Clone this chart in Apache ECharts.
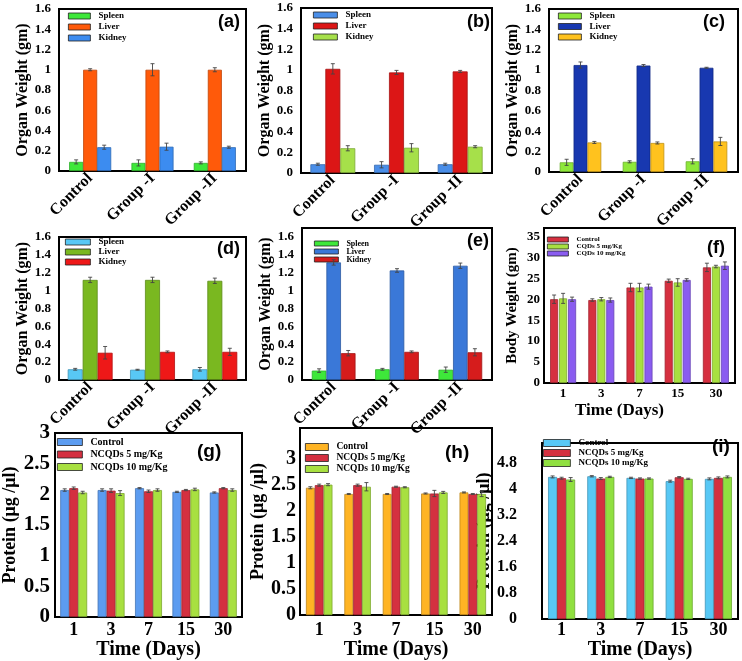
<!DOCTYPE html>
<html><head><meta charset="utf-8">
<script src="https://cdn.jsdelivr.net/npm/echarts@6/dist/echarts.min.js"></script>
<style>html,body{margin:0;padding:0;background:#fff}#c{width:742px;height:661px}</style>
</head><body><div id="c"></div>
<script>
// ---------- categories & names ----------
const organCats = ['Control', 'Group -I', 'Group -II'];
const dayCats = ['1', '3', '7', '15', '30'];
const organNames = ['Spleen', 'Liver', 'Kidney'];
const bodyNames = ['Control', 'CQDs 5 mg/Kg', 'CQDs 10 mg/Kg'];
const proteinNames = ['Control', 'NCQDs 5 mg/Kg', 'NCQDs 10 mg/Kg'];

// ---------- tick labels ----------
const organTicks = [0, 0.2, 0.4, 0.6, 0.8, 1, 1.2, 1.4, 1.6];
const bodyTicks = [0, 5, 10, 15, 20, 25, 30, 35];
const gTicks = [0, 0.5, 1, 1.5, 2, 2.5, 3];
const hTicks = [0, 0.5, 1, 1.5, 2, 2.5, 3];
const iTicks = [0, 0.8, 1.6, 2.4, 3.2, 4, 4.8];

// ---------- values (a) ----------
const aSpleen = [0.09, 0.08, 0.08];   const aSpleenErr = [0.02, 0.03, 0.01];
const aLiver = [1.0, 1.0, 1.0];       const aLiverErr = [0.01, 0.06, 0.02];
const aKidney = [0.235, 0.24, 0.235]; const aKidneyErr = [0.02, 0.035, 0.01];
// (b)
const bSpleen = [0.085, 0.08, 0.085]; const bSpleenErr = [0.01, 0.03, 0.01];
const bLiver = [1.01, 0.975, 0.985];  const bLiverErr = [0.05, 0.02, 0.01];
const bKidney = [0.24, 0.245, 0.255]; const bKidneyErr = [0.025, 0.04, 0.01];
// (c)
const cSpleen = [0.095, 0.1, 0.105];  const cSpleenErr = [0.03, 0.01, 0.025];
const cLiver = [1.05, 1.045, 1.023];  const cLiverErr = [0.03, 0.01, 0.005];
const cKidney = [0.29, 0.285, 0.3];   const cKidneyErr = [0.01, 0.01, 0.04];
// (d)
const dSpleen = [0.12, 0.115, 0.12];  const dSpleenErr = [0.01, 0.005, 0.02];
const dLiver = [1.12, 1.12, 1.11];    const dLiverErr = [0.03, 0.03, 0.03];
const dKidney = [0.305, 0.315, 0.315];const dKidneyErr = [0.07, 0.01, 0.04];
// (e)
const eSpleen = [0.105, 0.12, 0.115]; const eSpleenErr = [0.02, 0.01, 0.03];
const eLiver = [1.315, 1.225, 1.278]; const eLiverErr = [0.03, 0.02, 0.03];
const eKidney = [0.30, 0.315, 0.31];  const eKidneyErr = [0.03, 0.01, 0.04];
// (f) body weight
const fControl = [20.0, 19.8, 22.8, 24.4, 27.6]; const fControlErr = [1.0, 0.3, 1.0, 0.4, 1.0];
const fCqd5 = [20.2, 20.0, 22.8, 24.0, 27.8];    const fCqd5Err = [1.2, 0.4, 1.0, 0.9, 0.3];
const fCqd10 = [20.0, 19.8, 23.0, 24.6, 28.0];   const fCqd10Err = [0.5, 0.5, 0.6, 0.3, 0.9];
// (g) protein
const gControl = [2.07, 2.07, 2.10, 2.04, 2.03]; const gControlErr = [0.02, 0.02, 0.01, 0.01, 0.01];
const gNcqd5 = [2.10, 2.06, 2.05, 2.07, 2.10];   const gNcqd5Err = [0.02, 0.03, 0.02, 0.01, 0.01];
const gNcqd10 = [2.03, 2.02, 2.07, 2.08, 2.07];  const gNcqd10Err = [0.02, 0.04, 0.02, 0.02, 0.02];
// (h)
const hControl = [2.45, 2.33, 2.33, 2.34, 2.36]; const hControlErr = [0.02, 0.01, 0.01, 0.01, 0.01];
const hNcqd5 = [2.50, 2.50, 2.47, 2.34, 2.33];   const hNcqd5Err = [0.02, 0.02, 0.01, 0.06, 0.01];
const hNcqd10 = [2.51, 2.47, 2.46, 2.36, 2.33];  const hNcqd10Err = [0.02, 0.08, 0.01, 0.02, 0.05];
// (i)
const iControl = [4.36, 4.38, 4.33, 4.23, 4.30]; const iControlErr = [0.03, 0.02, 0.02, 0.03, 0.03];
const iNcqd5 = [4.32, 4.31, 4.31, 4.35, 4.33];   const iNcqd5Err = [0.03, 0.03, 0.02, 0.02, 0.03];
const iNcqd10 = [4.28, 4.36, 4.31, 4.30, 4.36];  const iNcqd10Err = [0.06, 0.02, 0.02, 0.02, 0.03];

// ---------- panel layout & styles ----------
const SERIF = '"Liberation Serif","Times New Roman",serif';
const panels = [
  { id: '(a)', grid: { left: 59, top: 9, width: 187, height: 162 }, cats: organCats, names: organNames,
    vals: [aSpleen, aLiver, aKidney], errs: [aSpleenErr, aLiverErr, aKidneyErr],
    colors: ['#3ee83a', '#ff5a0a', '#3c8cf0'], yMax: 1.6, yInt: 0.2, ticks: organTicks,
    yName: 'Organ Weight (gm)', yNameSize: 16, yNameGap: 28, yLabSize: 13, yLabMargin: 8,
    xRot: 45, xLabSize: 16, xLabMargin: 5, bw: 22.5, gap: 0,
    legend: { left: 68, top: 11, w: 22, h: 6, lh: 10, gap: 1, fs: 9 }, tag: { x: 218, y: 13, fs: 18 } },
  { id: '(b)', grid: { left: 301, top: 8, width: 191, height: 165 }, cats: organCats, names: organNames,
    vals: [bSpleen, bLiver, bKidney], errs: [bSpleenErr, bLiverErr, bKidneyErr],
    colors: ['#4a8ee8', '#dc1616', '#a6e04a'], yMax: 1.6, yInt: 0.2, ticks: organTicks,
    yName: 'Organ Weight (gm)', yNameSize: 16, yNameGap: 28, yLabSize: 13, yLabMargin: 8,
    xRot: 45, xLabSize: 16, xLabMargin: 5, bw: 23.5, gap: 0,
    legend: { left: 313, top: 10, w: 24, h: 6, lh: 10, gap: 1, fs: 9 }, tag: { x: 467, y: 13, fs: 18 } },
  { id: '(c)', grid: { left: 549, top: 9, width: 189, height: 163 }, cats: organCats, names: organNames,
    vals: [cSpleen, cLiver, cKidney], errs: [cSpleenErr, cLiverErr, cKidneyErr],
    colors: ['#8ee83a', '#1838b0', '#ffc21e'], yMax: 1.6, yInt: 0.2, ticks: organTicks,
    yName: 'Organ Weight (gm)', yNameSize: 16, yNameGap: 28, yLabSize: 13, yLabMargin: 8,
    xRot: 45, xLabSize: 16, xLabMargin: 5, bw: 22, gap: 0,
    legend: { left: 558, top: 11, w: 23, h: 6, lh: 10, gap: 0.5, fs: 9 }, tag: { x: 703, y: 13, fs: 18 } },
  { id: '(d)', grid: { left: 59, top: 237, width: 187, height: 143 }, cats: organCats, names: organNames,
    vals: [dSpleen, dLiver, dKidney], errs: [dSpleenErr, dLiverErr, dKidneyErr],
    colors: ['#58c8f5', '#7ab820', '#ee1818'], yMax: 1.6, yInt: 0.2, ticks: organTicks,
    yName: 'Organ Weight (gm)', yNameSize: 16, yNameGap: 28, yLabSize: 13, yLabMargin: 8,
    xRot: 45, xLabSize: 16, xLabMargin: 5, bw: 24, gap: 0,
    legend: { left: 65, top: 237, w: 25, h: 6, lh: 10, gap: 0, fs: 9 }, tag: { x: 217, y: 240, fs: 18 } },
  { id: '(e)', grid: { left: 302, top: 228, width: 190, height: 152 }, cats: organCats, names: organNames,
    vals: [eSpleen, eLiver, eKidney], errs: [eSpleenErr, eLiverErr, eKidneyErr],
    colors: ['#3ee83a', '#3a78d8', '#d61c1c'], yMax: 1.7, yInt: 0.2, ticks: organTicks,
    yName: 'Organ Weight (gm)', yNameSize: 16, yNameGap: 28, yLabSize: 13, yLabMargin: 8,
    xRot: 45, xLabSize: 16, xLabMargin: 5, bw: 23, gap: 0,
    legend: { left: 314, top: 239.5, w: 24, h: 5, lh: 7, gap: 0, fs: 8 }, tag: { x: 467, y: 232, fs: 18 } },
  { id: '(f)', grid: { left: 544, top: 228, width: 191, height: 155 }, cats: dayCats, names: bodyNames,
    vals: [fControl, fCqd5, fCqd10], errs: [fControlErr, fCqd5Err, fCqd10Err],
    colors: ['#d63040', '#a8e040', '#8a5cf0'], yMax: 37, yInt: 5, ticks: bodyTicks,
    yName: 'Body Weight (gm)', yNameSize: 15, yNameGap: 24, yLabSize: 13, yLabMargin: 4,
    xRot: 0, xLabSize: 13, xLabMargin: 4, bw: 21, gap: 12,
    xName: 'Time (Days)', xNameSize: 17, xNameGap: 19, xNameShift: 40,
    legend: { left: 547, top: 236, w: 21, h: 5, lh: 6, gap: 0, fs: 7 }, tag: { x: 707, y: 239, fs: 18 } },
  { id: '(g)', grid: { left: 54, top: 433, width: 188, height: 184 }, cats: dayCats, names: proteinNames,
    vals: [gControl, gNcqd5, gNcqd10], errs: [gControlErr, gNcqd5Err, gNcqd10Err],
    colors: ['#5c9cf0', '#d43040', '#a8e040'], yMax: 3, yInt: 0.5, ticks: gTicks,
    yName: 'Protein (μg /μl)', yNameSize: 18, yNameGap: 36, yLabSize: 21, yLabMargin: 5,
    xRot: 0, xLabSize: 18, xLabMargin: 4, bw: 24, gap: 0,
    xName: 'Time (Days)', xNameSize: 20, xNameGap: 18, xNameShift: 0,
    legend: { left: 57, top: 436, w: 25, h: 7, lh: 12, gap: 0.5, fs: 10 }, tag: { x: 197, y: 442, fs: 19 } },
  { id: '(h)', grid: { left: 300, top: 428, width: 192, height: 192 }, cats: dayCats, names: proteinNames,
    vals: [hControl, hNcqd5, hNcqd10], errs: [hControlErr, hNcqd5Err, hNcqd10Err],
    colors: ['#ffb424', '#d43040', '#a8e040'], yMax: 3.6, yInt: 0.5, ticks: hTicks,
    yName: 'Protein (μg /μl)', yNameSize: 18, yNameGap: 28, yLabSize: 20, yLabMargin: 4,
    xRot: 0, xLabSize: 18, xLabMargin: 6, bw: 23, gap: 0,
    xName: 'Time (Days)', xNameSize: 20, xNameGap: 17, xNameShift: 0,
    legend: { left: 305, top: 441.5, w: 23, h: 7, lh: 11, gap: 0, fs: 9.5 }, tag: { x: 445, y: 443, fs: 19 } },
  { id: '(i)', grid: { left: 542, top: 443, width: 196, height: 177 }, cats: dayCats, names: proteinNames,
    vals: [iControl, iNcqd5, iNcqd10], errs: [iControlErr, iNcqd5Err, iNcqd10Err],
    colors: ['#58c8f5', '#d43040', '#90e040'], yMax: 5.4, yInt: 0.8, ticks: iTicks,
    yName: 'Protein (μg /μl)', yNameSize: 18, yNameGap: 40, yLabSize: 16, yLabMargin: 25,
    xRot: 0, xLabSize: 18, xLabMargin: 2, bw: 23, gap: 0,
    xName: 'Time (Days)', xNameSize: 20, xNameGap: 15, xNameShift: 0,
    legend: { left: 543, top: 438, w: 27, h: 7, lh: 10, gap: 0, fs: 9 }, tag: { x: 712, y: 437, fs: 19 } }
];

function darken(hex, f) {
  const n = parseInt(hex.slice(1), 16);
  const r = Math.round(((n >> 16) & 255) * f), g = Math.round(((n >> 8) & 255) * f), b = Math.round((n & 255) * f);
  return 'rgb(' + r + ',' + g + ',' + b + ')';
}

const grids = [], xAxes = [], yAxes = [], series = [], legends = [], titles = [];
panels.forEach((p, pi) => {
  grids.push(Object.assign({ show: true, borderColor: '#000', borderWidth: 2, backgroundColor: 'transparent' }, p.grid));
  xAxes.push({
    type: 'category', gridIndex: pi, data: p.cats,
    axisLine: { lineStyle: { color: '#000', width: 2 } }, axisTick: { show: false },
    axisLabel: { interval: 0, rotate: p.xRot, margin: p.xLabMargin, color: '#000',
      fontFamily: SERIF, fontWeight: 'bold', fontSize: p.xLabSize },
    name: p.xName || '', nameLocation: 'middle', nameGap: p.xNameGap || 0,
    nameTextStyle: { color: '#000', fontFamily: SERIF, fontWeight: 'bold', fontSize: p.xNameSize || 12,
      padding: [0, p.xNameShift || 0, 0, 0] }
  });
  const ticks = p.ticks;
  yAxes.push({
    type: 'value', gridIndex: pi, min: 0, max: p.yMax, interval: p.yInt,
    splitLine: { show: false }, axisTick: { show: false },
    axisLine: { show: true, lineStyle: { color: '#000', width: 2 } },
    axisLabel: { margin: p.yLabMargin, color: '#000', fontFamily: SERIF, fontWeight: 'bold', fontSize: p.yLabSize,
      showMaxLabel: true,
      formatter: v => { const t = ticks.find(t => Math.abs(t - v) < 1e-6); return t === undefined ? '' : String(t); } },
    name: p.yName, nameLocation: 'middle', nameGap: p.yNameGap,
    nameTextStyle: { color: '#000', fontFamily: SERIF, fontWeight: 'bold', fontSize: p.yNameSize }
  });
  const n = p.names.length;
  const keyNames = p.names.map(nm => p.id + '|' + nm);
  p.names.forEach((nm, k) => {
    series.push({
      type: 'bar', name: keyNames[k], xAxisIndex: pi, yAxisIndex: pi, data: p.vals[k],
      barWidth: p.bw + '%', barGap: p.gap + '%', animation: false,
      itemStyle: { color: p.colors[k], borderColor: darken(p.colors[k], 0.75), borderWidth: 0.8 },
      emphasis: { disabled: true }
    });
  });
  const errData = [];
  p.vals.forEach((arr, k) => arr.forEach((v, i) => errData.push([i, v, p.errs[k][i], k])));
  series.push({
    type: 'custom', xAxisIndex: pi, yAxisIndex: pi, data: errData, animation: false, z: 5,
    encode: { x: 0, y: 1 }, silent: true,
    renderItem: (params, api) => {
      const i = api.value(0), v = api.value(1), e = api.value(2), k = api.value(3);
      const band = api.size([1, 0])[0];
      const bw = band * p.bw / 100, step = bw * (1 + p.gap / 100);
      const off = (k - (n - 1) / 2) * step;
      const t = api.coord([i, v + e]), b = api.coord([i, v - e]);
      const x = t[0] + off, cw = 2;
      const st = { stroke: '#444', lineWidth: 0.9 };
      return { type: 'group', children: [
        { type: 'line', shape: { x1: x, y1: t[1], x2: x, y2: b[1] }, style: st },
        { type: 'line', shape: { x1: x - cw, y1: t[1], x2: x + cw, y2: t[1] }, style: st },
        { type: 'line', shape: { x1: x - cw, y1: b[1], x2: x + cw, y2: b[1] }, style: st }
      ] };
    }
  });
  const L = p.legend;
  legends.push({
    data: keyNames, orient: 'vertical', left: L.left, top: L.top, padding: 0,
    itemWidth: L.w, itemHeight: L.h, itemGap: L.gap, icon: 'rect', selectedMode: false,
    itemStyle: { borderColor: '#222', borderWidth: 0.8 },
    formatter: nm => nm.split('|')[1],
    textStyle: { color: '#000', fontFamily: SERIF, fontWeight: 'bold', fontSize: L.fs, lineHeight: L.lh, padding: [0, 0, 0, 3] }
  });
  titles.push({ text: p.id, left: p.tag.x, top: p.tag.y, padding: 0,
    textStyle: { color: '#000', fontFamily: '"Liberation Sans",Arial,sans-serif', fontWeight: 'bold', fontSize: p.tag.fs } });
});

const chart = echarts.init(document.getElementById('c'), null, { renderer: 'canvas' });
chart.setOption({ animation: false, backgroundColor: '#fff', title: titles, grid: grids, xAxis: xAxes, yAxis: yAxes, legend: legends, series: series });
</script>
</body></html>
